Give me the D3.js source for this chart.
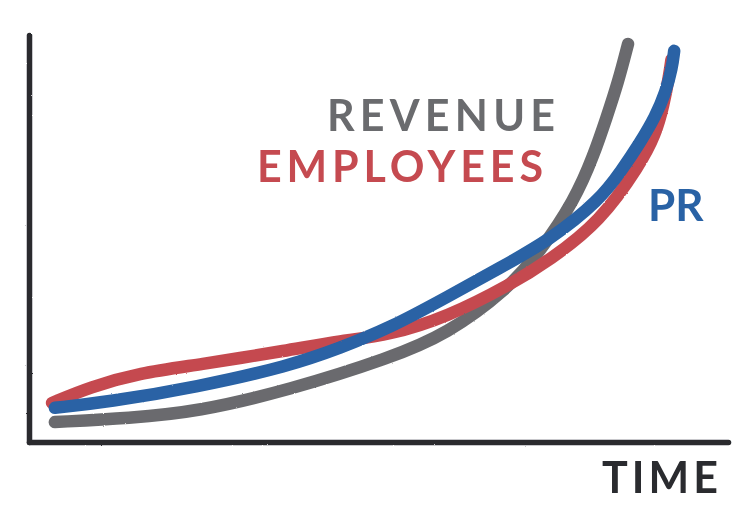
<!DOCTYPE html>
<html>
<head>
<meta charset="utf-8">
<script src="https://cdn.jsdelivr.net/npm/d3@7"></script>
<style>
  html, body { margin: 0; padding: 0; background: #ffffff; }
  svg { display: block; }
</style>
</head>
<body>
<svg id="chart" width="750" height="510"></svg>
<script>
// ---- data (time 0..100, value 0..100) ----
const seriesNames = ["REVENUE", "EMPLOYEES", "PR"];

const revenueTime  = [3.7, 14.5, 24.0, 37.3, 51.6, 59.8, 68.4, 73.1, 78.1, 80.8, 82.6, 84.3, 85.7];
const revenueValue = [4.9, 5.9, 7.4, 12.8, 20.6, 26.5, 37.4, 46.7, 59.5, 70.5, 79.6, 88.5, 97.8];

const employeesTime  = [3.3, 8.7, 15.9, 24.0, 37.3, 44.5, 51.6, 59.8, 68.8, 74.5, 81.7, 87.4, 89.6, 90.8, 91.6, 91.9];
const employeesValue = [9.6, 13.5, 17.0, 18.9, 22.6, 24.8, 26.3, 30.7, 38.6, 44.7, 54.1, 68.1, 75.4, 82.8, 90.2, 93.9];

const prTime  = [3.7, 11.2, 24.0, 37.3, 44.5, 51.6, 59.8, 67.4, 74.5, 81.7, 84.8, 87.4, 89.6, 91.1, 92.0, 92.3];
const prValue = [8.4, 9.8, 13.5, 18.7, 23.1, 28.0, 35.6, 42.8, 49.6, 59.5, 66.8, 73.5, 79.9, 86.0, 91.9, 96.1];

const xAxisLabel = "TIME";

// ---- layout / style ----
const colors = { REVENUE: "#6a6b6e", EMPLOYEES: "#c54a50", PR: "#2962a5" };
const axisColor = "#2a2b2f";

const svg = d3.select("#chart");

// rough hand-drawn edge filter
const defs = svg.append("defs");
const f = defs.append("filter").attr("id", "rough")
  .attr("x", "-5%").attr("y", "-5%").attr("width", "110%").attr("height", "110%");
f.append("feTurbulence").attr("type", "fractalNoise").attr("baseFrequency", 0.9)
  .attr("numOctaves", 2).attr("seed", 3).attr("result", "noise");
f.append("feDisplacementMap").attr("in", "SourceGraphic").attr("in2", "noise")
  .attr("scale", 1.6).attr("xChannelSelector", "R").attr("yChannelSelector", "G");

const x = d3.scaleLinear().domain([0, 100]).range([29, 728]);
const y = d3.scaleLinear().domain([0, 100]).range([442, 35]);

// ---- curves ----
const series = [
  { name: "REVENUE",   t: revenueTime,   v: revenueValue },
  { name: "EMPLOYEES", t: employeesTime, v: employeesValue },
  { name: "PR",        t: prTime,        v: prValue }
];

const line = d3.line()
  .x(d => x(d[0]))
  .y(d => y(d[1]))
  .curve(d3.curveBasis);

const gLines = svg.append("g").attr("filter", "url(#rough)");
series.forEach(s => {
  const pts = s.t.map((t, i) => [t, s.v[i]]);
  gLines.append("path")
    .datum(pts)
    .attr("d", line)
    .attr("fill", "none")
    .attr("stroke", colors[s.name])
    .attr("stroke-width", 12.5)
    .attr("stroke-linecap", "round")
    .attr("stroke-linejoin", "round");
});

// ---- axes ----
const gAxes = svg.append("g").attr("filter", "url(#rough)");
const yAxis = d3.axisLeft(y).ticks(0).tickSize(0).tickSizeOuter(0);
const xAxis = d3.axisBottom(x).ticks(0).tickSize(0).tickSizeOuter(0);

const ya = gAxes.append("g").attr("transform", `translate(${x(0)},0)`).call(yAxis);
const xa = gAxes.append("g").attr("transform", `translate(0,${y(0)})`).call(xAxis);
[ya, xa].forEach(a => {
  a.select(".domain")
    .attr("stroke", axisColor)
    .attr("stroke-width", 5.5)
    .attr("stroke-linecap", "round")
    .attr("stroke-linejoin", "round");
  a.selectAll(".tick").remove();
});

// ---- labels ----
const labelFont = "Lato, 'Open Sans', sans-serif";
const labels = [
  { text: "REVENUE",   x: 327, y: 131, w: 228, color: colors.REVENUE },
  { text: "EMPLOYEES", x: 257, y: 182, w: 286, color: colors.EMPLOYEES },
  { text: "PR",        x: 648, y: 221, w: null, color: colors.PR },
  { text: xAxisLabel,  x: 602, y: 493, w: 116, color: axisColor }
];
svg.append("g").selectAll("text").data(labels).join("text")
  .attr("x", d => d.x)
  .attr("y", d => d.y)
  .each(function (d) {
    if (d.w) d3.select(this).attr("textLength", d.w).attr("lengthAdjust", "spacing");
  })
  .attr("fill", d => d.color)
  .attr("font-family", labelFont)
  .attr("font-weight", 700)
  .attr("font-size", d => d.text === "PR" ? 44 : 43)
  .text(d => d.text);
</script>
</body>
</html>
